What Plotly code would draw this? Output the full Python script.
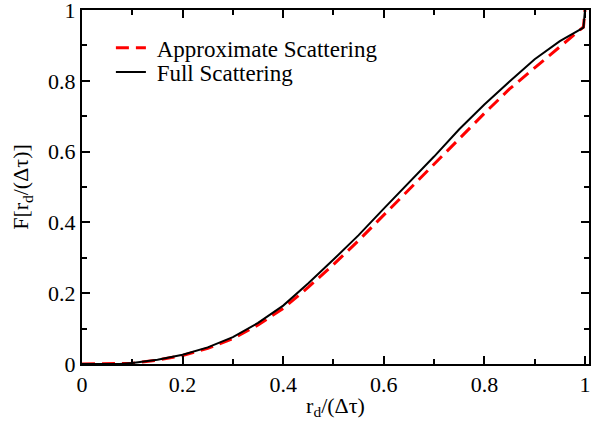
import plotly.graph_objects as go

x_vals = [0.0, 0.05, 0.075, 0.1, 0.15, 0.2, 0.25, 0.3, 0.35, 0.4, 0.45, 0.5, 0.55, 0.6,
          0.65, 0.7, 0.75, 0.8, 0.85, 0.9, 0.95, 0.997, 1.0]
full_scattering = [0.0, 0.0, 0.0, 0.003, 0.012, 0.026, 0.047, 0.076, 0.116, 0.165, 0.228,
                   0.295, 0.364, 0.439, 0.511, 0.586, 0.663, 0.733, 0.798, 0.861, 0.912,
                   0.95, 1.0]
approx_scattering = [0.0, 0.0, 0.0, 0.002, 0.011, 0.024, 0.044, 0.072, 0.11, 0.157, 0.217,
                     0.281, 0.349, 0.421, 0.492, 0.562, 0.636, 0.708, 0.777, 0.837, 0.895,
                     0.952, 1.0]
tick_vals = [0, 0.2, 0.4, 0.6, 0.8, 1]
tick_text = ["0", "0.2", "0.4", "0.6", "0.8", "1"]

FONT = "Liberation Serif"

fig = go.Figure()
fig.add_trace(go.Scatter(x=x_vals, y=approx_scattering, mode="lines",
                         name="\u00a0Approximate Scattering", legend="legend",
                         line=dict(color="#ff0000", width=3, dash="13px,7px")))
fig.add_trace(go.Scatter(x=x_vals, y=full_scattering, mode="lines",
                         name="\u00a0Full Scattering", legend="legend2",
                         line=dict(color="#000000", width=2)))

axis_common = dict(
    showgrid=False, zeroline=False, showline=True, linecolor="black", linewidth=2,
    mirror="allticks", ticks="inside", ticklen=8, tickwidth=1.5, tickcolor="black",
    automargin=False, ticklabeloverflow="allow",
    tickfont=dict(family=FONT, size=22, color="black"),
    minor=dict(ticks="inside", ticklen=5, tickwidth=1.5, tickcolor="black", dtick=0.1),
)

fig.update_xaxes(range=[0, 1.008], tickvals=tick_vals, ticktext=tick_text,
                 title=dict(text="r<sub>d</sub>/(Δτ)", standoff=1,
                            font=dict(family=FONT, size=22, color="black")),
                 **axis_common)
fig.update_yaxes(range=[0, 1], tickvals=tick_vals, ticktext=tick_text,
                 title=dict(text="F[r<sub>d</sub>/(Δτ)]", standoff=13,
                            font=dict(family=FONT, size=22, color="black")),
                 **axis_common)

legend_common = dict(xanchor="left", yanchor="middle", bgcolor="rgba(0,0,0,0)",
                     font=dict(family=FONT, size=23, color="black"))

fig.update_layout(
    width=599, height=421,
    margin=dict(l=82, r=10, t=10, b=57),
    paper_bgcolor="white", plot_bgcolor="white",
    font=dict(family=FONT, color="black"),
    showlegend=True,
    legend=dict(x=0.057, y=0.893, **legend_common),
    legend2=dict(x=0.057, y=0.825, **legend_common),
)

fig.write_html(
    "out.html",
    config={"displayModeBar": False},
    post_script="document.body.style.margin='0';document.body.style.padding='0';"
                "document.body.style.overflow='hidden';",
)
